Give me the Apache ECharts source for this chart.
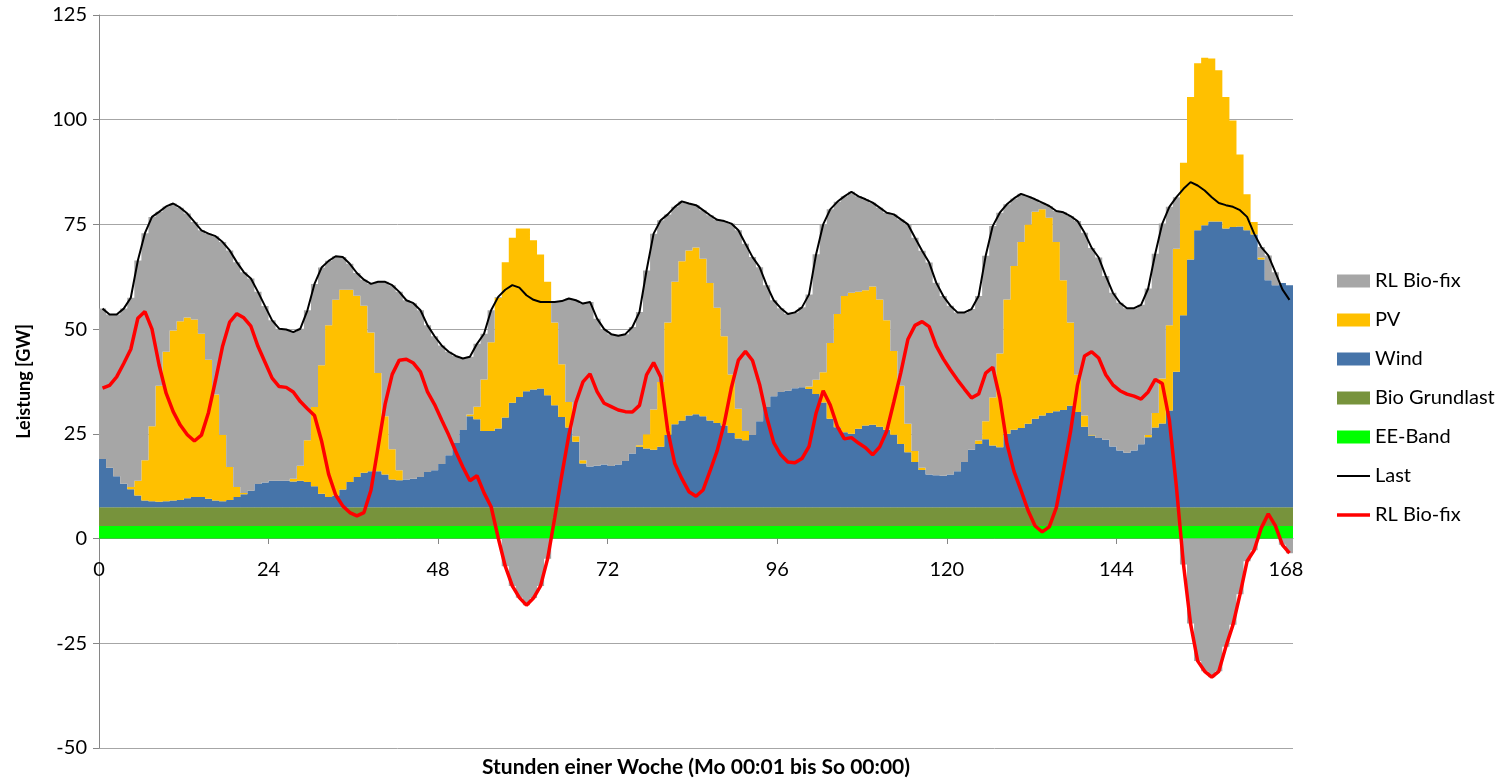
<!DOCTYPE html>
<html>
<head>
<meta charset="utf-8">
<title>Stunden einer Woche</title>
<script src="https://cdn.jsdelivr.net/npm/echarts@6/dist/echarts.min.js"></script>
<style>
html, body { margin: 0; padding: 0; background: #fff; }
#chart { width: 1506px; height: 779px; }
</style>
</head>
<body>
<div id="chart"></div>
<script>
// Leistung je Stunde (Index 0..168) in GW
const eeBand = 3.0
const bioGrundlast = 4.5

const wind = [
  11.5, 9.4, 7.4, 5.6, 4.3, 2.8, 1.6, 1.4, 1.3, 1.4, 1.6, 1.7,
  2.1, 2.4, 2.4, 2.0, 1.6, 1.4, 1.7, 2.4, 3.1, 3.9, 5.5, 5.9,
  6.3, 6.3, 6.3, 6.1, 6.3, 6.0, 5.0, 3.2, 2.4, 2.8, 4.2, 6.0,
  7.2, 8.2, 8.6, 8.6, 7.8, 6.6, 6.4, 6.6, 6.8, 7.2, 8.4, 8.8,
  10.3, 12.4, 15.3, 18.4, 21.7, 21.0, 18.2, 18.2, 18.8, 21.4, 24.9, 26.3,
  27.7, 28.1, 28.3, 26.7, 24.3, 21.5, 19.0, 15.6, 10.4, 9.7, 9.9, 10.2,
  9.8, 10.2, 11.0, 12.8, 14.4, 14.0, 13.7, 14.4, 17.2, 19.8, 20.7, 21.9,
  22.2, 21.7, 20.7, 20.1, 19.5, 17.7, 16.4, 16.0, 17.2, 20.5, 23.9, 26.5,
  27.5, 27.8, 28.4, 28.6, 28.2, 27.0, 25.0, 21.1, 19.1, 17.9, 17.5, 18.7,
  19.5, 19.7, 19.2, 18.5, 17.3, 15.1, 13.1, 10.8, 8.9, 7.8, 7.6, 7.5,
  7.8, 8.6, 10.8, 13.7, 15.1, 16.2, 14.7, 14.3, 17.5, 18.5, 18.9, 19.9,
  21.1, 21.9, 22.5, 22.9, 23.2, 24.2, 22.7, 19.2, 17.1, 16.5, 16.1, 14.5,
  13.5, 13.0, 13.5, 15.0, 16.7, 19.0, 20.0, 23.1, 32.3, 45.8, 59.1, 66.1,
  67.3, 68.2, 68.2, 66.5, 66.9, 67.0, 66.1, 65.1, 59.1, 54.2, 53.0, 53.5,
  53.0
]

const pv = [
  0, 0, 0, 0, 0.5, 3.5, 9.6, 17.9, 27.7, 35.7, 40.6, 42.7,
  43.2, 42.4, 39.0, 33.2, 25.3, 15.9, 7.9, 2.4, 0.3, 0, 0, 0,
  0, 0, 0, 0.7, 3.6, 10.0, 18.9, 30.7, 41.0, 46.7, 47.7, 45.9,
  43.3, 39.9, 33.1, 23.4, 13.9, 7.2, 2.4, 0, 0, 0, 0, 0,
  0, 0, 0, 0, 0.4, 3.0, 12.3, 21.2, 31.2, 37.1, 39.4, 40.2,
  38.8, 35.6, 32.0, 27.1, 19.8, 12.6, 6.1, 1.3, 0.8, 0, 0, 0,
  0, 0, 0, 0, 0.4, 3.4, 9.6, 15.5, 26.9, 34.0, 38.0, 39.4,
  39.8, 37.6, 32.8, 27.5, 21.3, 14.0, 7.1, 2.2, 0, 0, 0, 0,
  0, 0, 0, 0, 0.6, 3.4, 7.2, 18.1, 27.0, 32.5, 33.7, 32.7,
  32.3, 33.0, 30.4, 26.1, 20.0, 13.9, 6.8, 2.6, 0.5, 0, 0, 0,
  0, 0, 0, 0, 0.8, 4.3, 11.5, 22.4, 32.1, 39.1, 44.4, 47.6,
  49.4, 49.2, 46.6, 40.4, 31.0, 19.9, 8.9, 2.7, 0.2, 0, 0, 0,
  0, 0, 0, 0, 0.5, 3.5, 10.7, 20.3, 29.4, 36.4, 38.8, 39.9,
  40.0, 38.9, 36.1, 31.4, 25.4, 17.2, 8.6, 3.0, 0.5, 0, 0, 0,
  0
]

const rlBioFix = [
  35.9, 36.6, 38.6, 41.8, 45.2, 52.6, 54.2, 50.0, 41.5, 34.7, 30.3, 27.1,
  24.8, 23.3, 24.7, 30.1, 37.8, 46.0, 51.7, 53.7, 52.7, 50.7, 45.9, 42.1,
  38.3, 36.3, 36.1, 35.0, 32.7, 31.0, 29.4, 23.3, 15.4, 10.4, 7.8, 6.2,
  5.4, 6.2, 11.6, 21.8, 32.1, 39.2, 42.6, 42.8, 41.9, 39.8, 35.0, 32.0,
  28.3, 24.7, 20.8, 17.1, 13.8, 15.0, 10.9, 7.6, 0.2, -6.6, -11.3, -14.1,
  -15.9, -14.2, -11.3, -4.8, 4.9, 15.1, 24.7, 32.5, 37.4, 39.3, 35.1, 32.3,
  31.5, 30.7, 30.3, 30.2, 31.8, 39.1, 42.0, 38.6, 25.8, 17.9, 14.3, 11.2,
  10.1, 11.6, 16.2, 21.0, 27.5, 36.0, 42.6, 44.7, 42.5, 36.8, 29.1, 22.9,
  20.0, 18.3, 18.1, 19.1, 22.0, 30.0, 35.3, 31.9, 26.8, 23.8, 24.1, 22.8,
  21.7, 20.0, 21.9, 25.7, 32.6, 39.7, 47.6, 50.9, 51.8, 50.6, 46.0, 42.9,
  40.3, 37.9, 35.7, 33.6, 34.5, 39.5, 40.9, 33.6, 22.7, 16.1, 11.5, 6.7,
  3.0, 1.6, 2.8, 7.4, 16.2, 25.4, 36.7, 43.6, 44.6, 43.1, 39.1, 36.7,
  35.3, 34.5, 34.0, 33.3, 35.0, 38.0, 37.0, 28.3, 12.3, -6.2, -20.3, -29.2,
  -31.7, -33.1, -31.7, -25.8, -20.6, -13.3, -5.4, -2.8, 2.5, 5.9, 3.1, -1.5,
  -3.5
]

const last = [
  54.9, 53.5, 53.5, 54.9, 57.5, 66.4, 72.9, 76.8, 78.0, 79.3, 80.0, 79.0,
  77.6, 75.6, 73.6, 72.8, 72.2, 70.8, 68.8, 66.0, 63.6, 62.1, 58.9, 55.5,
  52.1, 50.1, 49.9, 49.3, 50.1, 54.5, 60.8, 64.7, 66.3, 67.4, 67.2, 65.6,
  63.4, 61.8, 60.8, 61.3, 61.3, 60.5, 58.9, 56.9, 56.2, 54.5, 50.9, 48.3,
  46.1, 44.6, 43.6, 43.0, 43.4, 46.5, 48.9, 54.5, 57.7, 59.4, 60.5, 59.9,
  58.1, 57.0, 56.5, 56.5, 56.5, 56.7, 57.3, 56.9, 56.1, 56.5, 52.5, 50.0,
  48.8, 48.4, 48.8, 50.5, 54.1, 64.0, 72.8, 76.0, 77.4, 79.2, 80.5, 80.0,
  79.6, 78.4, 77.2, 76.1, 75.8, 75.2, 73.6, 70.4, 67.2, 64.8, 60.5, 56.9,
  55.0, 53.6, 54.0, 55.2, 58.3, 67.9, 75.0, 78.6, 80.4, 81.7, 82.8, 81.7,
  81.0, 80.2, 79.0, 77.8, 77.4, 76.2, 75.0, 71.8, 68.7, 65.9, 61.1, 57.9,
  55.6, 54.0, 54.0, 54.8, 57.9, 67.5, 74.6, 77.8, 79.8, 81.2, 82.3, 81.7,
  81.0, 80.2, 79.4, 78.2, 77.9, 77.0, 75.8, 73.0, 69.4, 67.1, 62.7, 58.7,
  56.3, 55.0, 55.0, 55.8, 59.7, 68.0, 75.2, 79.2, 81.5, 83.5, 85.1, 84.3,
  83.1, 81.5, 80.1, 79.6, 79.2, 78.4, 76.8, 72.8, 69.6, 67.6, 63.6, 59.5,
  57.0
]

const xTicks = [0, 24, 48, 72, 96, 120, 144, 168]

const FONT = "Lato, 'Open Sans', sans-serif"
const AXIS_GREY = "#868686"

// eine Kategorie je Stunde, Balken und Linienpunkte mittig darin
const hours = last.map((_, i) => i)

const chart = echarts.init(document.getElementById("chart"))

// large-Modus: alle Balken einer Reihe als ein Pfad -> keine Haarlinien dazwischen
const bar = (name, data, color) => ({
  name,
  type: "bar",
  stack: "leistung",
  xAxisIndex: 0,
  data,
  barWidth: "100%",
  large: true,
  largeThreshold: 50,
  itemStyle: { color },
  emphasis: { disabled: true },
})

// Linien-Icon fuer die Legende: bbox 33x13, Strich in der Mitte
const lineIcon = (w) => "path://M0,0M33,13M0," + (6.5 - w / 2) + "h33v" + w + "h-33z"

const option = {
  animation: false,
  grid: { left: 99, right: 213, top: 15, bottom: 31, outerBoundsMode: "none" },
  legend: {
    orient: "vertical",
    left: 1332,
    top: 266,
    itemWidth: 33,
    itemHeight: 13,
    itemGap: 19,
    selectedMode: false,
    textStyle: { fontSize: 20, color: "#000", fontFamily: FONT },
    data: [
      { name: "RL Bio-fix", icon: "rect" },
      { name: "PV", icon: "rect" },
      { name: "Wind", icon: "rect" },
      { name: "Bio Grundlast", icon: "rect" },
      { name: "EE-Band", icon: "rect" },
      { name: "Last", icon: lineIcon(2) },
      { name: "RL Bio-fix ", icon: lineIcon(3.5) },
    ],
  },
  xAxis: [
    {
      type: "category",
      data: hours,
      boundaryGap: true,
      show: false,
    },
    {
      type: "value",
      min: 0,
      max: 169,
      position: "bottom",
      offset: -210,
      axisLine: { onZero: false, lineStyle: { color: AXIS_GREY } },
      axisTick: { show: true, customValues: xTicks, length: 6, lineStyle: { color: AXIS_GREY } },
      axisLabel: { customValues: xTicks, margin: 22, fontSize: 20, color: "#000", fontFamily: FONT },
      splitLine: { show: false },
    },
  ],
  yAxis: {
    type: "value",
    min: -50,
    max: 125,
    interval: 25,
    name: "Leistung [GW]",
    nameLocation: "middle",
    nameRotate: 90,
    nameGap: 66,
    nameTextStyle: { fontSize: 18, fontWeight: "bold", color: "#000", fontFamily: FONT },
    axisLine: { show: true, onZero: false, lineStyle: { color: AXIS_GREY } },
    axisTick: { show: true, length: 6, lineStyle: { color: AXIS_GREY } },
    axisLabel: { fontSize: 20, margin: 12, color: "#000", fontFamily: FONT },
    splitLine: { show: true, lineStyle: { color: "#a6a6a6" } },
  },
  graphic: [
    {
      type: "text",
      x: 696,
      y: 767,
      style: {
        text: "Stunden einer Woche (Mo 00:01 bis So 00:00)",
        font: "bold 21px " + FONT,
        fill: "#000",
        align: "center",
        verticalAlign: "middle",
      },
    },
  ],
  series: [
    bar("EE-Band", hours.map(() => eeBand), "#00ff00"),
    bar("Bio Grundlast", hours.map(() => bioGrundlast), "#77933c"),
    bar("Wind", wind, "#4674a9"),
    bar("PV", pv, "#ffc000"),
    bar("RL Bio-fix", rlBioFix, "#a6a6a6"),
    {
      name: "Last",
      type: "line",
      xAxisIndex: 0,
      data: last,
      symbol: "none",
      lineStyle: { color: "#000", width: 2 },
      itemStyle: { color: "#000" },
      z: 5,
    },
    {
      name: "RL Bio-fix ",
      type: "line",
      xAxisIndex: 0,
      data: rlBioFix,
      symbol: "none",
      lineStyle: { color: "#ff0000", width: 3.5 },
      itemStyle: { color: "#ff0000" },
      z: 6,
    },
  ],
}

chart.setOption(option)
</script>
</body>
</html>
